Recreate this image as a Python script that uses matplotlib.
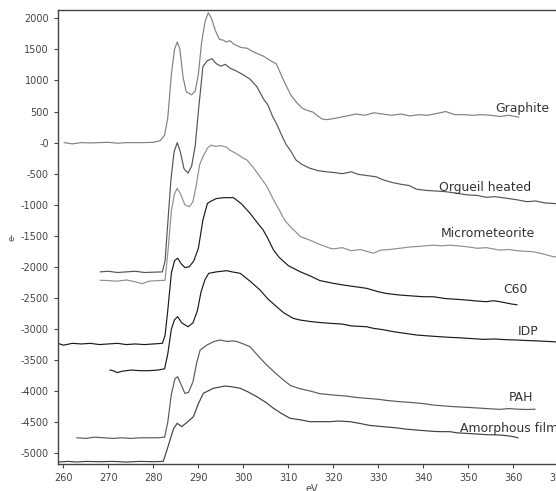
import matplotlib
matplotlib.use("Agg")
import matplotlib.pyplot as plt

plt.rcParams["axes.unicode_minus"] = False
plt.rcParams["font.family"] = ["DejaVu Sans"]

# --- spectra (eV, counts) ---
graphite_x = [260.2, 262, 264, 266, 268, 270, 272, 274, 276, 278, 280, 281.5, 282.5, 283.2, 284,
              284.7, 285.3, 285.9, 286.6, 287.3, 288.5, 289.3, 290, 290.7, 291.5, 292.2, 292.9,
              293.8, 294.7, 295.5, 296.2, 297, 298, 299.5, 300.8, 302, 303.5, 304.5, 306, 307.3,
              308.9, 310.5, 311.9, 313, 314.1, 315.5, 316.5, 317.5, 318.5, 319.5, 321, 323, 325,
              327, 329, 331, 333, 335, 337, 339, 341, 343, 345, 347, 349, 351, 353, 355, 357, 359,
              361.2]
graphite_y = [0, -20, 0, -5, 0, 5, -10, 0, 0, 0, 5, 30, 120, 400, 1100,
              1500, 1620, 1500, 1050, 820, 770, 830, 1100, 1600, 1950, 2090, 2000,
              1800, 1660, 1650, 1620, 1640, 1580, 1530, 1520, 1470, 1420, 1390, 1320, 1270,
              1010, 770, 640, 560, 520, 490, 430, 380, 370, 380, 400, 430, 460,
              440, 480, 460, 440, 460, 430, 450, 440, 470, 500, 450, 450, 440, 450, 440, 420, 440,
              410]

orgueil_x = [268.2, 270, 272, 274, 276, 278, 280, 282, 282.6, 283.2, 283.9, 284.6, 285.3, 286,
             286.8, 287.7, 288.5, 289.3, 290, 291, 292, 293, 294, 295, 296, 297, 298.5, 300,
             301.5, 303, 304.5, 305.5, 306.5, 307.4, 308.5, 309.5, 310.4, 311.7, 313, 314.7,
             316.5, 318.5, 320, 322, 324, 325.5, 327.5, 329.5, 331.1, 333, 335, 336.8, 338.5,
             340.8, 343, 345, 347, 349.6, 352, 354, 356, 358, 360.8, 363, 365, 367, 369, 371]
orgueil_y = [-2080, -2070, -2090, -2080, -2070, -2090, -2085, -2080, -1900, -1300, -600, -150, 0,
             -150, -420, -490, -380, -50, 500, 1220, 1320, 1350, 1270, 1230, 1260, 1200, 1150,
             1090, 1020, 900, 700, 600, 420, 300, 120, -30, -120, -280, -350, -410,
             -450, -470, -480, -500, -470, -510, -530, -550, -600, -640, -670, -690, -750,
             -770, -780, -790, -810, -840, -850, -880, -870, -890, -920, -950, -940, -970, -980,
             -990]

micro_x = [268.2, 270, 272, 274, 276, 277.5, 279, 281, 282.6, 283.3, 284, 284.7, 285.3, 286, 287,
           288, 288.8, 289.5, 290.3, 291, 292, 292.8, 293.8, 295, 296.2, 297, 298.5, 300, 300.8,
           302.2, 303.7, 305.2, 306.7, 308.1, 309.2, 310.4, 311.7, 312.6, 314.8, 317, 319.3, 320,
           322, 324, 326, 328.9, 330.5, 332.5, 334.8, 337, 339, 342.2, 344, 346, 349.6, 352, 354,
           357, 359, 361, 364.4, 366, 368.9, 371]
micro_y = [-2215, -2220, -2230, -2210, -2240, -2270, -2230, -2220, -2215, -1700, -1100, -820, -736,
           -820, -1000, -1030, -950, -700, -350, -230, -90, -40, -60, -50, -70, -120, -180, -250,
           -280, -400, -550, -700, -920, -1100, -1250, -1350, -1440, -1510, -1570, -1640, -1700,
           -1710, -1690, -1740, -1720, -1780, -1730, -1720, -1700, -1680, -1670, -1650, -1660,
           -1650, -1675, -1700, -1690, -1730, -1720, -1740, -1756, -1780, -1836, -1850]

c60_x = [258.8, 260, 262, 264, 266, 268, 270, 272, 274, 276, 278, 280, 282, 282.6, 283.2, 284,
         284.7, 285.4, 286.2, 287, 288, 289, 290, 291, 292, 292.6, 294, 295.6, 297.8, 299.5, 301.5,
         303, 304.4, 305.5, 306.7, 308, 310, 312.6, 315, 317, 320, 323, 325, 327.4, 330, 332,
         334.8, 338, 340, 342.2, 345, 347, 349.6, 352, 354, 355.6, 357, 359.6, 360.8]
c60_y = [-3230, -3260, -3230, -3240, -3230, -3250, -3240, -3230, -3250, -3240, -3250, -3240, -3230,
         -3100, -2700, -2100, -1900, -1860, -1950, -2010, -1997, -1900, -1700, -1250, -980, -950,
         -900, -886, -886, -980, -1138, -1280, -1406, -1550, -1728, -1850, -1980, -2077, -2150,
         -2220, -2265, -2300, -2320, -2345, -2400, -2430, -2453, -2470, -2480, -2480, -2510,
         -2520, -2533, -2550, -2560, -2544, -2560, -2597, -2610]

idp_x = [270.4, 271, 272, 273, 275, 277, 279, 281, 282.5, 283.2, 284, 284.7, 285.4, 286.3, 287.7,
         288.8, 289.8, 290.6, 291.5, 292.3, 294, 296.3, 297.5, 299.3, 301.5, 303.7, 305.5, 307.4,
         309, 311.1, 312.6, 315, 317, 319.3, 322, 324, 327.4, 329, 331, 333.4, 336, 338.5, 341,
         343, 345.9, 348, 350, 353.4, 356, 358, 360.8, 363, 365, 368.9, 371]
idp_y = [-3660, -3670, -3700, -3680, -3660, -3670, -3670, -3660, -3640, -3400, -3000, -2850, -2800,
         -2900, -2963, -2900, -2700, -2400, -2200, -2104, -2080, -2061, -2080, -2104, -2230, -2372,
         -2520, -2641, -2740, -2828, -2855, -2880, -2895, -2908, -2920, -2950, -2963, -2990,
         -3010, -3043, -3070, -3096, -3110, -3120, -3134, -3140, -3150, -3166, -3160, -3170,
         -3177, -3185, -3190, -3204, -3220]

pah_x = [263, 265, 267, 269, 271, 273, 275, 277, 279, 281, 282.5, 283.2, 284, 284.8, 285.4, 286.2,
         287, 287.8, 288.8, 289.6, 290.4, 291.9, 293.5, 294.8, 296.5, 297.5, 298.5, 300, 301.5,
         303.5, 305.2, 307, 308.9, 310.5, 312.6, 315, 317, 320, 323, 325, 327.4, 330, 332, 334.8,
         337, 340, 342.2, 345, 347, 349.6, 352, 354, 357, 359, 361, 363, 364.8]
pah_y = [-4750, -4760, -4740, -4750, -4760, -4750, -4760, -4750, -4750, -4750, -4740, -4500, -4050,
         -3800, -3767, -3900, -4035, -4020, -3850, -3550, -3337, -3257, -3200, -3177, -3200, -3190,
         -3200, -3240, -3285, -3450, -3579, -3700, -3820, -3910, -3960, -4000, -4040, -4062,
         -4080, -4100, -4115, -4130, -4150, -4169, -4180, -4200, -4223, -4240, -4250, -4260,
         -4270, -4280, -4292, -4280, -4290, -4295, -4290]

amorph_x = [258.8, 261, 263, 265, 268, 271, 274, 277, 280, 282.2, 283, 283.7, 284.5, 285.3, 286.3,
            287.5, 288.9, 290, 291.1, 293.3, 295.9, 297.5, 299.3, 301, 303, 305, 306.7, 308.5,
            310.4, 312.6, 314.8, 317, 319.3, 321, 323.7, 326, 328, 331.1, 334, 336, 338.5, 341,
            343, 345.9, 347.5, 349.6, 352, 354, 357, 359, 360, 361]
amorph_y = [-5140, -5130, -5140, -5130, -5135, -5130, -5140, -5130, -5135, -5130, -4950, -4786,
            -4600, -4517, -4570, -4500, -4410, -4200, -4035, -3954, -3917, -3930, -3954, -4010,
            -4089, -4180, -4276, -4360, -4437, -4460, -4491, -4490, -4491, -4480, -4491, -4520,
            -4550, -4571, -4590, -4610, -4625, -4640, -4650, -4652, -4670, -4679, -4690, -4700,
            -4705, -4720, -4732, -4750]

labels = ["Graphite", "Orgueil heated", "Micrometeorite", "C60", "IDP", "PAH", "Amorphous film"]
label_x = [355.9, 343.5, 343.9, 357.7, 361.0, 359.0, 348.2]
label_y = [557, -715, -1455, -2356, -3032, -4094, -4593]

series = [
    (graphite_x, graphite_y, "#808080"),
    (orgueil_x, orgueil_y, "#555555"),
    (micro_x, micro_y, "#8e8e8e"),
    (c60_x, c60_y, "#1a1a1a"),
    (idp_x, idp_y, "#1a1a1a"),
    (pah_x, pah_y, "#5a5a5a"),
    (amorph_x, amorph_y, "#404040"),
]

yticks = [2000, 1500, 1000, 500, 0, -500, -1000, -1500, -2000, -2500, -3000, -3500,
          -4000, -4500, -5000]
ytick_labels = ["2000", "1500", "1000", "500", "-0", "-500", "-1000", "-1500", "-2000",
                "-2500", "-3000", "-3500", "-4000", "-4500", "-5000"]
xticks = [260, 270, 280, 290, 300, 310, 320, 330, 340, 350, 360, 370]

fig = plt.figure(figsize=(5.56, 4.91), dpi=100)
ax = fig.add_axes([0.1043, 0.0556, 0.912, 0.924])

for xs, ys, col in series:
    ax.plot(xs, ys, color=col, lw=0.85)

for name, lx, ly in zip(labels, label_x, label_y):
    ax.text(lx, ly, name, fontsize=8.9, color="#333333", ha="left", va="center")

ax.set_xlim(258.8, 371.5)
ax.set_ylim(-5167, 2134)
ax.set_yticks(yticks)
ax.set_yticklabels(ytick_labels)
ax.set_xticks(xticks)
ax.tick_params(labelsize=7, colors="#444444", length=3, width=0.8, direction="out")
for s in ax.spines.values():
    s.set_color("#444444")
    s.set_linewidth(1.0)

ax.set_ylabel("e-", fontsize=6, color="#444444")
ax.yaxis.set_label_coords(-0.082, 0.5)
ax.set_xlabel("eV", fontsize=7, color="#444444", va="top")
ax.xaxis.set_label_coords(0.5, -0.045)

fig.savefig("out.png", dpi=100)
